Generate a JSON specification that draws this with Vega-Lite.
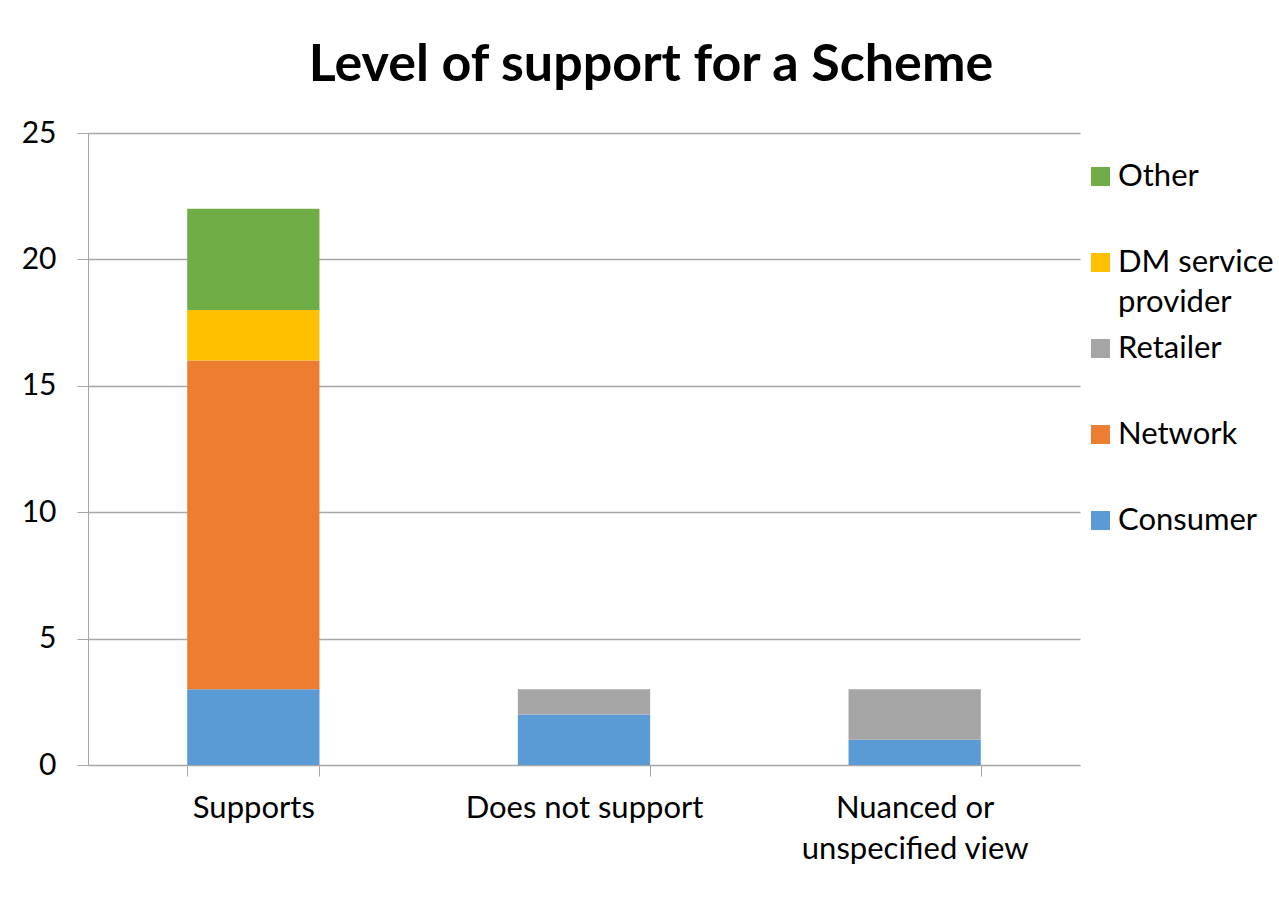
{
  "$schema": "https://vega.github.io/schema/vega-lite/v6.json",
  "autosize": "none",
  "width": 992,
  "height": 632,
  "padding": {"left": 88, "top": 133, "right": 199, "bottom": 149},
  "background": "white",
  "title": {
    "text": "Level of support for a Scheme",
    "font": "Lato",
    "fontSize": 52,
    "fontWeight": "bold",
    "color": "#000000",
    "anchor": "middle",
    "dx": 67,
    "offset": 26
  },
  "data": {
    "values": [
      {"view": "Supports", "group": "Consumer", "count": 3},
      {"view": "Supports", "group": "Network", "count": 13},
      {"view": "Supports", "group": "DM service provider", "count": 2},
      {"view": "Supports", "group": "Other", "count": 4},
      {"view": "Does not support", "group": "Consumer", "count": 2},
      {"view": "Does not support", "group": "Retailer", "count": 1},
      {"view": "Nuanced or unspecified view", "group": "Consumer", "count": 1},
      {"view": "Nuanced or unspecified view", "group": "Retailer", "count": 2}
    ]
  },
  "transform": [
    {"calculate": "indexof(['Consumer','Network','Retailer','DM service provider','Other'], datum.group)", "as": "order"}
  ],
  "mark": {"type": "bar"},
  "encoding": {
    "x": {
      "field": "view",
      "type": "nominal",
      "sort": ["Supports", "Does not support", "Nuanced or unspecified view"],
      "scale": {"paddingInner": 0.6, "paddingOuter": 0.3},
      "axis": {
        "title": null,
        "labelAngle": 0,
        "labelFont": "Lato",
        "labelFontSize": 31,
        "labelColor": "#000000",
        "labelPadding": 17,
        "labelLineHeight": 41,
        "labelExpr": "datum.label == 'Nuanced or unspecified view' ? ['Nuanced or', 'unspecified view'] : datum.label",
        "tickBand": "extent",
        "tickSize": 11,
        "tickColor": "#a6a6a6",
        "domainColor": "#a6a6a6",
        "labelLimit": 400
      }
    },
    "y": {
      "field": "count",
      "type": "quantitative",
      "stack": "zero",
      "scale": {"domain": [0, 25]},
      "axis": {
        "title": null,
        "values": [0, 5, 10, 15, 20, 25],
        "labelFont": "Lato",
        "labelFontSize": 30,
        "labelColor": "#000000",
        "labelPadding": 21,
        "tickSize": 11,
        "tickColor": "#a6a6a6",
        "domainColor": "#a6a6a6",
        "gridColor": "#a6a6a6",
        "gridWidth": 1.5
      }
    },
    "color": {
      "field": "group",
      "type": "nominal",
      "scale": {
        "domain": ["Other", "DM service provider", "Retailer", "Network", "Consumer"],
        "range": ["#70AD47", "#FFC000", "#A5A5A5", "#ED7D31", "#5B9BD5"]
      },
      "legend": {
        "title": null,
        "orient": "none",
        "legendX": 997,
        "legendY": 28,
        "padding": 0,
        "gridAlign": "all",
        "columns": 1,
        "symbolType": "square",
        "symbolSize": 361,
        "symbolStrokeWidth": 0,
        "labelFont": "Lato",
        "labelFontSize": 31,
        "labelColor": "#000000",
        "labelOffset": 2,
        "labelLimit": 300,
        "rowPadding": 14,
        "labelExpr": "datum.label == 'DM service provider' ? ['DM service', 'provider'] : datum.label",
        "encode": {
          "labels": {"update": {"lineHeight": {"value": 40}}}
        }
      }
    },
    "order": {"field": "order", "type": "quantitative"}
  },
  "config": {
    "view": {"stroke": null}
  }
}
